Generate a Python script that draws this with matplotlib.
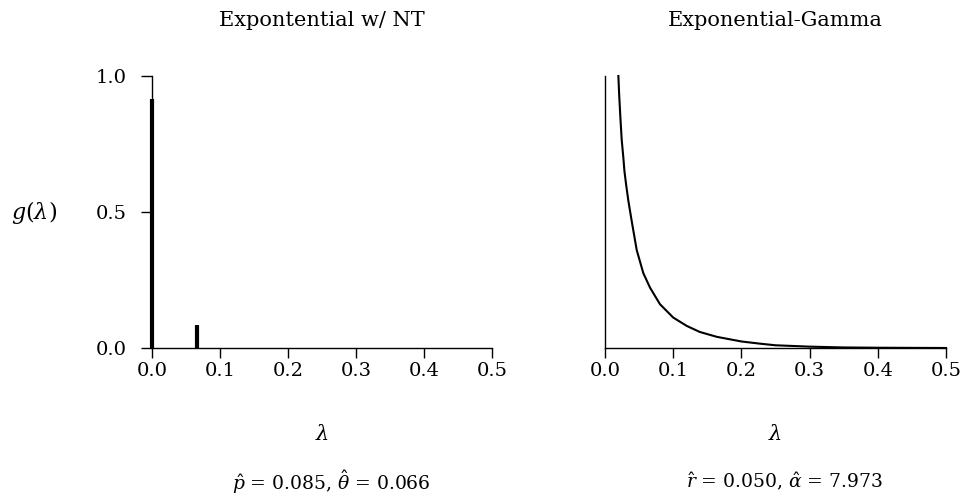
import numpy as np
import matplotlib
matplotlib.use("Agg")
import matplotlib.pyplot as plt

plt.rcParams['font.family'] = ['DejaVu Serif']
plt.rcParams['mathtext.fontset'] = 'dejavuserif'

# Exponential w/ NT: point masses
nt_lam = [0.0, 0.066]
nt_mass = [0.915, 0.085]

# Exponential-Gamma: density
eg_lam = [0.0196, 0.0208, 0.0225, 0.0245, 0.0269, 0.0285, 0.031, 0.0342,
          0.039, 0.0465, 0.0562, 0.066, 0.0806, 0.1, 0.12, 0.139, 0.164, 0.2,
          0.227, 0.25, 0.3, 0.35, 0.4, 0.45, 0.5]
eg_dens = [2.0, 1.86, 1.70, 1.53, 1.40, 1.30, 1.20, 1.084,
           0.938, 0.72, 0.55, 0.444, 0.322, 0.224, 0.162, 0.118, 0.082, 0.048,
           0.032, 0.020, 0.010, 0.004, 0.002, 0.001, 0.0]

xticks = [0.0, 0.1, 0.2, 0.3, 0.4, 0.5]
yticks = [0.0, 0.5, 1.0]
titles = ["Expontential w/ NT", "Exponential-Gamma"]
stats = [r"$\hat{p}$ = 0.085, $\hat{\theta}$ = 0.066",
         r"$\hat{r}$ = 0.050, $\hat{\alpha}$ = 7.973"]

fs = 14
fig = plt.figure(figsize=(9.63, 5.0), dpi=100)
ax1 = fig.add_axes([152/963, 1-348/500, 340/963, 272/500])
ax2 = fig.add_axes([605/963, 1-348/500, 341/963, 272/500])

ax1.vlines(nt_lam, 0, nt_mass, colors='black', linewidth=3, clip_on=False)
ax1.set_xlim(0, 0.5)
ax1.set_ylim(0, 1)
ax1.set_yticks(yticks)
ax1.set_yticklabels([f"{v:.1f}" for v in yticks])

ax2.plot(eg_lam, eg_dens, color='black', linewidth=1.5, clip_on=False)
ax2.set_xlim(0, 0.5)
ax2.set_ylim(0, 2.0)
ax2.set_yticks([])

for ax, t, s in zip([ax1, ax2], titles, stats):
    ax.spines['top'].set_visible(False)
    ax.spines['right'].set_visible(False)
    ax.spines['left'].set_linewidth(1)
    ax.spines['bottom'].set_linewidth(1)
    ax.set_xticks(xticks)
    ax.set_xticklabels([f"{v:.1f}" for v in xticks])
    ax.tick_params(axis='x', length=7, width=1, pad=3, labelsize=fs)
    ax.tick_params(axis='y', length=8, width=1, pad=10, labelsize=fs)
    ax.set_title(t, fontsize=15, pad=0, y=1 + (76 - 21) / 272, va='center')
    ax.text(0.5, -(434 - 348) / 272, r"$\lambda$", transform=ax.transAxes,
            ha='center', va='center', fontsize=fs + 1)
    ax.text(0.5 + 9 / 340, -(482 - 348) / 272, s, transform=ax.transAxes,
            ha='center', va='center', fontsize=13.5)

fig.text(34/963, 1-213/500, r"$g(\lambda)$", ha='center', va='center', fontsize=16)

fig.savefig("out.png", dpi=100)
